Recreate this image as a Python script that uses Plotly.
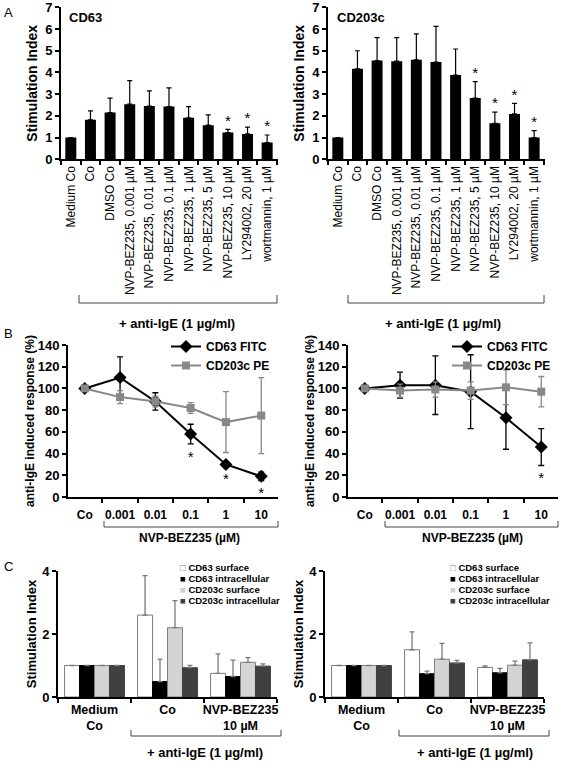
import plotly.graph_objects as go

W, H = 563, 761
FONT = "Liberation Sans, Arial, sans-serif"

# ---------------- Data ----------------
# Panel A
a_categories = ["Medium Co", "Co", "DMSO Co", "NVP-BEZ235, 0.001 µM", "NVP-BEZ235, 0.01 µM",
                "NVP-BEZ235, 0.1 µM", "NVP-BEZ235, 1 µM", "NVP-BEZ235, 5 µM", "NVP-BEZ235, 10 µM",
                "LY294002, 20 µM", "wortmannin, 1 µM"]
a_cd63_mean = [1.0, 1.82, 2.15, 2.54, 2.45, 2.43, 1.91, 1.57, 1.23, 1.17, 0.77]
a_cd63_sd = [0.0, 0.41, 0.67, 1.08, 0.70, 0.86, 0.52, 0.48, 0.15, 0.31, 0.35]
a_cd63_sig = [0, 0, 0, 0, 0, 0, 0, 0, 1, 1, 1]
a_cd203c_mean = [1.0, 4.17, 4.55, 4.52, 4.58, 4.48, 3.88, 2.82, 1.66, 2.09, 1.0]
a_cd203c_sd = [0.0, 0.83, 1.05, 1.08, 1.20, 1.64, 1.20, 0.76, 0.51, 0.49, 0.32]
a_cd203c_sig = [0, 0, 0, 0, 0, 0, 0, 1, 1, 1, 1]

# Panel B
b_doses = ["Co", "0.001", "0.01", "0.1", "1", "10"]
b_left_cd63 = [100, 110, 88, 58, 30, 19]
b_left_cd63_sd = [0, 19, 8, 9, 2, 4]
b_left_cd63_sig = [0, 0, 0, 1, 1, 1]
b_left_cd203c = [100, 92, 88, 82, 69, 75]
b_left_cd203c_sd = [0, 6, 5, 5, 28, 35]
b_right_cd63 = [100, 103, 103, 97, 73, 46]
b_right_cd63_sd = [0, 12, 27, 34, 29, 17]
b_right_cd63_sig = [0, 0, 0, 0, 0, 1]
b_right_cd203c = [100, 98, 99, 98, 101, 97]
b_right_cd203c_sd = [0, 6, 7, 8, 16, 14]

# Panel C
c_groups = ["Medium<br>Co", "Co", "NVP-BEZ235<br>10 µM"]
c_series = ["CD63 surface", "CD63 intracellular", "CD203c surface", "CD203c intracellular"]
c_left_cd63_surface = [1.0, 2.60, 0.75]
c_left_cd63_surface_sd = [0, 1.25, 0.62]
c_left_cd63_intra = [1.0, 0.49, 0.65]
c_left_cd63_intra_sd = [0, 0.71, 0.52]
c_left_cd203c_surface = [1.0, 2.20, 1.10]
c_left_cd203c_surface_sd = [0, 0.86, 0.15]
c_left_cd203c_intra = [1.0, 0.93, 0.98]
c_left_cd203c_intra_sd = [0, 0.07, 0.07]
c_right_cd63_surface = [1.0, 1.50, 0.94]
c_right_cd63_surface_sd = [0, 0.57, 0.05]
c_right_cd63_intra = [1.0, 0.74, 0.77]
c_right_cd63_intra_sd = [0, 0.08, 0.14]
c_right_cd203c_surface = [1.0, 1.20, 1.01]
c_right_cd203c_surface_sd = [0, 0.50, 0.13]
c_right_cd203c_intra = [1.0, 1.08, 1.18]
c_right_cd203c_intra_sd = [0, 0.08, 0.54]

# ---------------- Helpers ----------------
def px(x):
    return x / W

def py(y):
    return 1 - y / H

BLACK = "#000000"
GRAY = "#888888"
STAR_GAP_B = 6  # gap (data units) between error bar end and asterisk in panel B

fig = go.Figure()

# ---------- Panel A ----------
def add_a(mean, sd, sig, xa, ya):
    fig.add_trace(go.Bar(x=a_categories, y=mean, width=0.56, marker=dict(color=BLACK, line=dict(width=0)),
                         error_y=dict(type="data", array=sd, arrayminus=[0] * len(sd), symmetric=False,
                                      color=BLACK, thickness=1.2, width=2.5),
                         xaxis=xa, yaxis=ya, showlegend=False))
    sx = [c for c, s in zip(a_categories, sig) if s]
    sy = [m + e for m, e, s in zip(mean, sd, sig) if s]
    fig.add_trace(go.Scatter(x=sx, y=sy, mode="text", text=["*"] * len(sx), textposition="top center",
                             textfont=dict(size=15, family=FONT, color=BLACK), cliponaxis=False,
                             xaxis=xa, yaxis=ya, showlegend=False, hoverinfo="skip"))

add_a(a_cd63_mean, a_cd63_sd, a_cd63_sig, "x", "y")
add_a(a_cd203c_mean, a_cd203c_sd, a_cd203c_sig, "x2", "y2")

# ---------- Panel B ----------
def add_b(cd63, cd63_sd, cd203, cd203_sd, sig, xa, ya, leg):
    fig.add_trace(go.Scatter(x=b_doses, y=cd63, mode="lines+markers", name="CD63 FITC",
                             line=dict(color=BLACK, width=2),
                             marker=dict(symbol="diamond", size=10, color=BLACK),
                             error_y=dict(type="data", array=cd63_sd, color=BLACK, thickness=1.3, width=3),
                             xaxis=xa, yaxis=ya, legend=leg))
    fig.add_trace(go.Scatter(x=b_doses, y=cd203, mode="lines+markers", name="CD203c PE",
                             line=dict(color=GRAY, width=2),
                             marker=dict(symbol="square", size=8, color=GRAY),
                             error_y=dict(type="data", array=cd203_sd, color=GRAY, thickness=1.3, width=3),
                             xaxis=xa, yaxis=ya, legend=leg))
    sx = [d for d, s in zip(b_doses, sig) if s]
    sy = [m - e - STAR_GAP_B for m, e, s in zip(cd63, cd63_sd, sig) if s]
    fig.add_trace(go.Scatter(x=sx, y=sy, mode="text", text=["*"] * len(sx), textposition="bottom center",
                             textfont=dict(size=15, family=FONT, color=BLACK), cliponaxis=False,
                             xaxis=xa, yaxis=ya, showlegend=False, hoverinfo="skip"))

add_b(b_left_cd63, b_left_cd63_sd, b_left_cd203c, b_left_cd203c_sd, b_left_cd63_sig, "x3", "y3", "legend")
add_b(b_right_cd63, b_right_cd63_sd, b_right_cd203c, b_right_cd203c_sd, b_right_cd63_sig, "x4", "y4", "legend2")

# ---------- Panel C ----------
c_styles = [
    dict(color="#ffffff", line=dict(color="#7f7f7f", width=1)),
    dict(color="#000000", line=dict(color="#000000", width=1)),
    dict(color="#d4d4d4", line=dict(color="#7f7f7f", width=1)),
    dict(color="#404040", line=dict(color="#404040", width=1)),
]

def add_c(series_vals, series_sd, xa, ya):
    for name, vals, sd, st in zip(c_series, series_vals, series_sd, c_styles):
        fig.add_trace(go.Bar(x=c_groups, y=vals, name=name, marker=st,
                             error_y=dict(type="data", array=sd, arrayminus=[0] * len(sd), symmetric=False,
                                          color="#7a7a7a", thickness=1.3, width=2.5),
                             xaxis=xa, yaxis=ya, showlegend=False))

add_c([c_left_cd63_surface, c_left_cd63_intra, c_left_cd203c_surface, c_left_cd203c_intra],
      [c_left_cd63_surface_sd, c_left_cd63_intra_sd, c_left_cd203c_surface_sd, c_left_cd203c_intra_sd],
      "x5", "y5")
add_c([c_right_cd63_surface, c_right_cd63_intra, c_right_cd203c_surface, c_right_cd203c_intra],
      [c_right_cd63_surface_sd, c_right_cd63_intra_sd, c_right_cd203c_surface_sd, c_right_cd203c_intra_sd],
      "x6", "y6")

# ---------------- Axes ----------------
def xcat(domain, anchor, tickfont, tickangle=0, standoff=None):
    d = dict(domain=domain, anchor=anchor, type="category", showline=True, linecolor=BLACK, linewidth=2,
             ticks="outside", tickson="boundaries", ticklen=4, tickwidth=1.5, tickcolor=BLACK,
             tickmode="linear", tick0=0, dtick=1,
             tickfont=tickfont, tickangle=tickangle, showgrid=False, zeroline=False, automargin=False,
             fixedrange=True)
    if standoff is not None:
        d["ticklabelstandoff"] = standoff
    return d

def ylin(domain, anchor, rng, dtick, title, titlesize, standoff):
    return dict(domain=domain, anchor=anchor, range=rng, dtick=dtick, tick0=0, showline=True,
                linecolor=BLACK, linewidth=2, ticks="outside", ticklen=4, tickwidth=1.5, tickcolor=BLACK,
                tickfont=dict(size=13, family=FONT, weight="bold", color=BLACK),
                ticklabeloverflow="allow",
                title=dict(text=title, font=dict(size=titlesize, family=FONT, weight="bold", color=BLACK),
                           standoff=standoff),
                showgrid=False, zeroline=False, automargin=False, fixedrange=True)

cat_font = dict(size=12, family=FONT, color=BLACK)
bold12 = dict(size=12, family=FONT, weight="bold", color=BLACK)
bold13 = dict(size=12.5, family=FONT, weight="bold", color=BLACK)

yA = [py(159.3), py(7.3)]
yB = [py(497), py(345)]
yC = [py(697), py(571)]

layout_axes = dict(
    xaxis=xcat([px(61), px(278)], "y", cat_font, -90),
    yaxis=ylin(yA, "x", [0, 7], 1, "Stimulation Index", 14, 4),
    xaxis2=xcat([px(328), px(545)], "y2", cat_font, -90),
    yaxis2=ylin(yA, "x2", [0, 7], 1, "Stimulation Index", 14, 4),
    xaxis3=xcat([px(68), px(278)], "y3", bold12, 0, 6),
    yaxis3=ylin(yB, "x3", [0, 140], 20, "anti-IgE induced response (%)", 12, 0),
    xaxis4=xcat([px(348), px(558)], "y4", bold12, 0, 6),
    yaxis4=ylin(yB, "x4", [0, 140], 20, "anti-IgE induced response (%)", 12, 0),
    xaxis5=xcat([px(58), px(277)], "y5", bold13, 0),
    yaxis5=ylin(yC, "x5", [0, 4], 2, "Stimulation Index", 13, 3),
    xaxis6=xcat([px(325), px(544)], "y6", bold13, 0),
    yaxis6=ylin(yC, "x6", [0, 4], 2, "Stimulation Index", 13, 3),
)

# ---------------- Annotations / shapes ----------------
annotations = []

def text(x, y, t, size=13, bold=True, anchor="center"):
    annotations.append(dict(x=px(x), y=py(y), xref="paper", yref="paper", text=t, showarrow=False,
                            xanchor=anchor, yanchor="middle",
                            font=dict(size=size, family=FONT, color=BLACK, weight="bold" if bold else "normal")))

text(2, 12, "A", 13, False, "left")
text(2, 333, "B", 13, False, "left")
text(2, 566, "C", 13, False, "left")
text(67, 17, "CD63", 13, True, "left")
text(335, 17, "CD203c", 13, True, "left")
text(177, 323, "+ anti-IgE (1 µg/ml)", 13)
text(443, 323, "+ anti-IgE (1 µg/ml)", 13)
text(190, 538, "NVP-BEZ235 (µM)", 12)
text(472, 538, "NVP-BEZ235 (µM)", 12)
text(205, 752, "+ anti-IgE (1 µg/ml)", 13)
text(475, 752, "+ anti-IgE (1 µg/ml)", 13)

# Panel C legends
legend_marks = [("□", "#7f7f7f"), ("■", "#000000"), ("■", "#cfcfcf"), ("■", "#404040")]
legend_rows = [567, 578, 589, 600]
for lx in (178, 448):
    for (glyph, col), name, ry in zip(legend_marks, c_series, legend_rows):
        text(lx, ry, f"<span style='color:{col}'>{glyph}</span> {name}", 9.5, True, "left")

shapes = []

def bracket(x0, x1, y0, y1):
    for d in (dict(x0=x0, x1=x0, y0=y0, y1=y1), dict(x0=x1, x1=x1, y0=y0, y1=y1),
              dict(x0=x0, x1=x1, y0=y1, y1=y1)):
        shapes.append(dict(type="line", xref="paper", yref="paper", x0=px(d["x0"]), x1=px(d["x1"]),
                           y0=py(d["y0"]), y1=py(d["y1"]), line=dict(color="#444444", width=1)))

bracket(79, 277, 295, 303)
bracket(348, 544, 295, 303)
bracket(104, 278, 521, 527)
bracket(385, 558, 521, 527)
bracket(131, 281, 730, 736)
bracket(399, 549, 730, 736)

legend_common = dict(font=dict(size=12, family=FONT, weight="bold", color=BLACK), bgcolor="rgba(0,0,0,0)",
                     borderwidth=0, xanchor="left", yanchor="top", itemwidth=30, tracegroupgap=0)

fig.update_layout(
    template="none",
    width=W, height=H,
    margin=dict(l=0, r=0, t=0, b=0),
    paper_bgcolor="white", plot_bgcolor="rgba(0,0,0,0)",
    font=dict(family=FONT, color=BLACK),
    barmode="group", bargap=0.18, bargroupgap=0,
    annotations=annotations, shapes=shapes,
    legend=dict(x=px(166), y=py(332), **legend_common),
    legend2=dict(x=px(447), y=py(332), **legend_common),
    **layout_axes,
)

fig.write_html("out.html", config={"displayModeBar": False},
               post_script="document.body.style.margin='0';")
